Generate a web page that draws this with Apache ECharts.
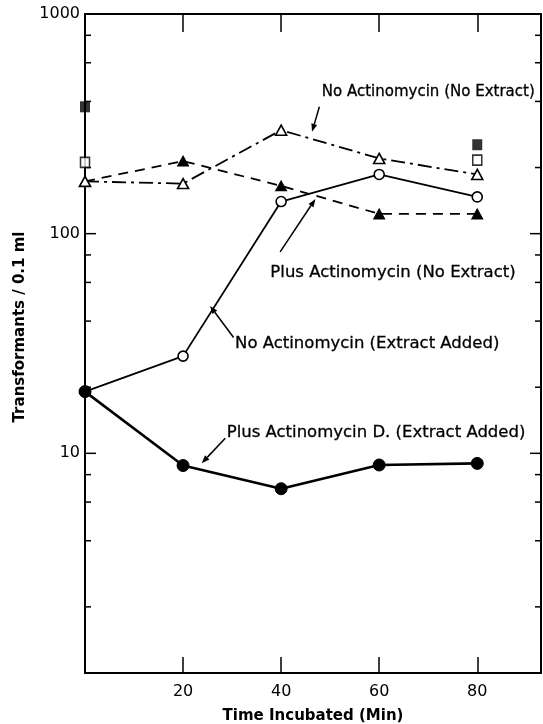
<!DOCTYPE html>
<html>
<head>
<meta charset="utf-8">
<script src="https://cdn.jsdelivr.net/npm/echarts@6/dist/echarts.min.js"></script>
<style>
html,body{margin:0;padding:0;background:#fff;}
#chart{width:543px;height:724px;}
</style>
</head>
<body>
<div id="chart"></div>
<script>
// ---- data ----
const times = [0, 20, 40, 60, 80];
const noActNoExtract   = [173, 169, 296, 220, 186];   // open triangles
const plusActNoExtract = [173, 214, 165, 123, 123];   // filled triangles
const noActExtract     = [19.1, 27.7, 140, 186, 147]; // open circles
const plusActExtract   = [19.1, 8.8, 6.9, 8.85, 9.0]; // filled circles
const openSquareTimes   = [0, 80];
const openSquareVals    = [211, 216];
const filledSquareTimes = [0, 80];
const filledSquareVals  = [378, 254];
const majorYTicks = [10, 100, 1000];
const minorYTicks = [2, 4, 6, 8, 20, 40, 60, 80, 200, 400, 600, 800];
const xTickLabels = [20, 40, 60, 80];
const yTickLabels = [10, 100, 1000];

// annotation texts and anchors (data coordinates)
const annTexts = ['No Actinomycin (No Extract)', 'Plus Actinomycin (No Extract)',
                  'No Actinomycin (Extract Added)', 'Plus Actinomycin D. (Extract Added)'];
const annSizes = [15, 16.5, 16.5, 16.5];
const annTextX = [48.3, 37.8, 30.6, 28.9];
const annTextY = [440, 66.2, 31.5, 12.4];
const arrowFromX = [47.8, 39.8, 30.3, 28.6];
const arrowFromY = [378, 82.6, 33.7, 11.7];
const arrowToX   = [46.3, 47.0, 25.5, 23.8];
const arrowToY   = [291, 144, 46.9, 9.02];
const yTitleCentre = 37.6; // value level where the y-axis title is centred

const FONT = "'DejaVu Sans', sans-serif";
const pair = (xs, ys) => xs.map((x, i) => [x, ys[i]]);

const chart = echarts.init(document.getElementById('chart'), null, {renderer: 'canvas'});

const axisCommonX = {
  type: 'value', min: 0, max: 93, interval: 20,
  axisLine: {show: true, onZero: false, lineStyle: {color: '#000', width: 2}},
  splitLine: {show: false}
};
const axisCommonY = {
  type: 'log', logBase: 10, min: 1, max: 1000,
  axisLine: {show: true, onZero: false, lineStyle: {color: '#000', width: 2}},
  axisTick: {show: false},
  splitLine: {show: false}
};

function yTickSeries(values, len) {
  return {
    type: 'custom', silent: true, clip: false,
    xAxisIndex: 0, yAxisIndex: 0,
    data: values.map(v => [0, v]),
    renderItem: function (params, api) {
      const cs = params.coordSys;
      const y = api.coord([0, api.value(1)])[1];
      const st = {stroke: '#000', lineWidth: 1.5};
      return {type: 'group', children: [
        {type: 'line', shape: {x1: cs.x, y1: y, x2: cs.x + len, y2: y}, style: st},
        {type: 'line', shape: {x1: cs.x + cs.width - len, y1: y, x2: cs.x + cs.width, y2: y}, style: st}
      ]};
    },
    z: 3
  };
}

const option = {
  animation: false,
  backgroundColor: '#fff',
  grid: {left: 85, right: 2, top: 14, bottom: 51, containLabel: false, outerBoundsMode: 'none'},
  xAxis: [
    Object.assign({}, axisCommonX, {
      position: 'bottom',
      name: 'Time Incubated (Min)', nameLocation: 'middle', nameGap: 36,
      nameTextStyle: {fontFamily: FONT, fontSize: 15, fontWeight: 'bold', color: '#000'},
      axisTick: {show: true, inside: true, length: 16, lineStyle: {color: '#000', width: 1.5}},
      axisLabel: {show: true, margin: 11, fontFamily: FONT, fontSize: 16, color: '#000',
        formatter: v => (xTickLabels.indexOf(v) >= 0 ? String(v) : '')}
    }),
    Object.assign({}, axisCommonX, {
      position: 'top',
      axisTick: {show: true, inside: true, length: 18, lineStyle: {color: '#000', width: 1.5}},
      axisLabel: {show: false}
    })
  ],
  yAxis: [
    Object.assign({}, axisCommonY, {
      position: 'left',
      axisLabel: {show: true, margin: 5, fontFamily: FONT, fontSize: 16, color: '#000',
        formatter: v => (yTickLabels.indexOf(Math.round(v)) >= 0 ? String(Math.round(v)) : '')}
    }),
    Object.assign({}, axisCommonY, {
      position: 'right',
      axisLabel: {show: false}
    })
  ],
  series: [
    yTickSeries(majorYTicks, 11),
    yTickSeries(minorYTicks, 6),
    {
      type: 'line', name: 'Plus Actinomycin (No Extract)', clip: false,
      data: pair(times, plusActNoExtract),
      symbol: 'triangle', symbolSize: [11, 10],
      itemStyle: {color: '#000', borderColor: '#000'},
      lineStyle: {color: '#000', width: 1.8, type: [10, 7]},
      z: 4
    },
    {
      type: 'line', name: 'No Actinomycin (No Extract)', clip: false,
      data: pair(times, noActNoExtract),
      symbol: 'triangle', symbolSize: [11, 10],
      itemStyle: {color: '#fff', borderColor: '#000', borderWidth: 1.6},
      lineStyle: {color: '#000', width: 1.8, type: [14, 5, 3, 5]},
      z: 5
    },
    {
      type: 'line', name: 'No Actinomycin (Extract Added)', clip: false,
      data: pair(times, noActExtract),
      symbol: 'circle', symbolSize: 10,
      itemStyle: {color: '#fff', borderColor: '#000', borderWidth: 1.6},
      lineStyle: {color: '#000', width: 1.8},
      z: 6
    },
    {
      type: 'line', name: 'Plus Actinomycin D. (Extract Added)', clip: false,
      data: pair(times, plusActExtract),
      symbol: 'circle', symbolSize: 12,
      itemStyle: {color: '#000', borderColor: '#000'},
      lineStyle: {color: '#000', width: 2.6},
      z: 7
    },
    {
      type: 'scatter', name: 'open squares', clip: false,
      data: pair(openSquareTimes, openSquareVals),
      symbol: 'rect', symbolSize: [9, 10],
      itemStyle: {color: '#fff', borderColor: '#000', borderWidth: 1.6},
      z: 8
    },
    {
      type: 'scatter', name: 'filled squares', clip: false,
      data: pair(filledSquareTimes, filledSquareVals),
      symbol: 'rect', symbolSize: [10, 11],
      itemStyle: {color: '#000'},
      z: 8
    }
  ]
};
chart.setOption(option);

// annotations placed through the chart's own scales
const toPx = (x, y) => chart.convertToPixel({seriesIndex: 2}, [x, y]);
const graphics = [];
annTexts.forEach((t, i) => {
  const p = toPx(annTextX[i], annTextY[i]);
  graphics.push({
    type: 'text', x: p[0], y: p[1], z: 20,
    style: {text: t, font: annSizes[i] + "px " + FONT, fill: '#000', align: 'left', verticalAlign: 'middle',
            stroke: '#000', lineWidth: 0.3}
  });
  const a = toPx(arrowFromX[i], arrowFromY[i]);
  const b = toPx(arrowToX[i], arrowToY[i]);
  const dx = b[0] - a[0], dy = b[1] - a[1];
  const len = Math.sqrt(dx * dx + dy * dy);
  const ux = dx / len, uy = dy / len;
  const hl = 8, hw = 3;
  const bx = b[0] - ux * hl, by = b[1] - uy * hl;
  graphics.push({
    type: 'line', z: 20,
    shape: {x1: a[0], y1: a[1], x2: bx, y2: by},
    style: {stroke: '#000', lineWidth: 1.5}
  });
  graphics.push({
    type: 'polygon', z: 20,
    shape: {points: [[b[0], b[1]], [bx - uy * hw, by + ux * hw], [bx + uy * hw, by - ux * hw]]},
    style: {fill: '#000'}
  });
});
// y-axis title (centred where the reference has it)
const yMid = toPx(0, yTitleCentre);
graphics.push({
  type: 'text', x: 20, y: yMid[1], rotation: Math.PI / 2, z: 20,
  style: {text: 'Transformants / 0.1 ml', font: "bold 15px " + FONT, fill: '#000',
          align: 'center', verticalAlign: 'middle'}
});
chart.setOption({graphic: graphics});
</script>
</body>
</html>
